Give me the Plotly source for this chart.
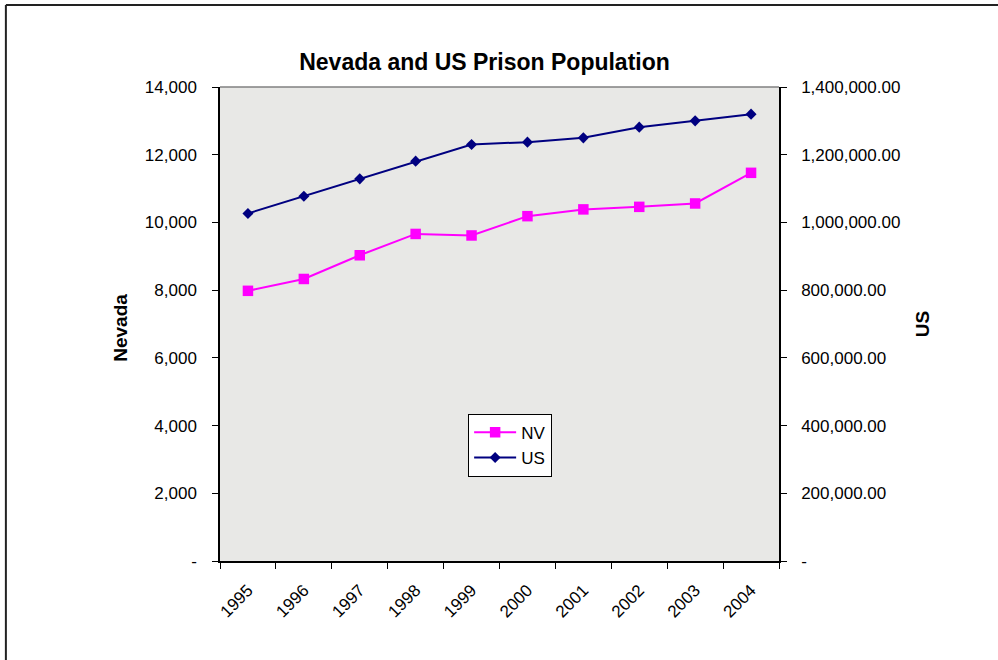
import plotly.graph_objects as go

years = ["1995", "1996", "1997", "1998", "1999", "2000", "2001", "2002", "2003", "2004"]
nv_values = [7980, 8330, 9030, 9660, 9615, 10185, 10385, 10460, 10560, 11465]
us_values = [1026600, 1077600, 1128700, 1181000, 1230300, 1237100, 1249800, 1281400, 1300000, 1319800]

left_tickvals = [0, 2000, 4000, 6000, 8000, 10000, 12000, 14000]
left_ticktext = ["-", "2,000", "4,000", "6,000", "8,000", "10,000", "12,000", "14,000"]
right_tickvals = [0, 200000, 400000, 600000, 800000, 1000000, 1200000, 1400000]
right_ticktext = ["-", "200,000.00", "400,000.00", "600,000.00", "800,000.00",
                  "1,000,000.00", "1,200,000.00", "1,400,000.00"]

FONT = "Liberation Sans, Arial, sans-serif"
W, H = 998, 660
L, R, T, B = 220, 778.7, 87, 561.3
pw, ph = R - L, B - T

fig = go.Figure()
fig.add_trace(go.Scatter(
    x=years, y=nv_values, name="NV", mode="lines+markers", legendgroup="a",
    line=dict(color="#FF00FF", width=2),
    marker=dict(symbol="square", size=10.5, color="#FF00FF"),
))
fig.add_trace(go.Scatter(
    x=years, y=us_values, name="US", mode="lines+markers", yaxis="y2", legendgroup="b",
    line=dict(color="#000080", width=2),
    marker=dict(symbol="diamond", size=8.5, color="#000080"),
))

def px_x(p):
    return (p - L) / pw

def px_y(p):
    return (B - p) / ph

fig.update_layout(
    width=W, height=H,
    margin=dict(l=L, r=W - R, t=T, b=H - B, pad=0),
    paper_bgcolor="white",
    plot_bgcolor="#e8e8e6",
    font=dict(family=FONT, size=17, color="black"),
    title=dict(text="<b>Nevada and US Prison Population</b>", x=484.5 / W, xref="container",
               xanchor="center", y=1 - 62 / H, yref="container", yanchor="middle",
               font=dict(size=23, family=FONT)),
    xaxis=dict(type="category", range=[-0.5, 9.5], showline=True, linecolor="black", linewidth=1.5,
               ticks="outside", ticklen=6, tickcolor="black", tickson="boundaries",
               tickangle=-45, showgrid=False, zeroline=False, tickfont=dict(size=17),
               ticklabelstandoff=11),
    yaxis=dict(range=[0, 14000], tickvals=left_tickvals, ticktext=left_ticktext,
               showline=True, linecolor="black", linewidth=1.5, ticks="outside", ticklen=6,
               tickcolor="black", showgrid=False, zeroline=False, ticklabelstandoff=12,
               tickfont=dict(size=17)),
    yaxis2=dict(range=[0, 1400000], tickvals=right_tickvals, ticktext=right_ticktext,
                overlaying="y", side="right", showline=True, linecolor="black", linewidth=1.5,
                ticks="outside", ticklen=6, tickcolor="black", showgrid=False, zeroline=False,
                ticklabelstandoff=11, tickfont=dict(size=17)),
    legend=dict(x=px_x(468), y=px_y(414), xanchor="left", yanchor="top",
                bgcolor="white", bordercolor="black", borderwidth=1,
                font=dict(size=17, family=FONT), tracegroupgap=0, itemwidth=42),
    showlegend=True,
    annotations=[
        dict(text="<b>Nevada</b>", x=px_x(121), y=px_y(328), xref="paper", yref="paper",
             textangle=-90, showarrow=False, font=dict(size=19, family=FONT),
             xanchor="center", yanchor="middle"),
        dict(text="<b>US</b>", x=px_x(922), y=px_y(324), xref="paper", yref="paper",
             textangle=-90, showarrow=False, font=dict(size=19, family=FONT),
             xanchor="center", yanchor="middle"),
    ],
    shapes=[
        dict(type="line", xref="paper", yref="paper", x0=0, x1=1, y0=1, y1=1,
             line=dict(color="#808080", width=1.5)),
        dict(type="line", xref="paper", yref="paper", x0=px_x(6), x1=px_x(1010), y0=px_y(5), y1=px_y(5),
             line=dict(color="#222222", width=2)),
        dict(type="line", xref="paper", yref="paper", x0=px_x(6), x1=px_x(6), y0=px_y(5), y1=px_y(680),
             line=dict(color="#222222", width=2)),
    ],
)

fig.write_html("out.html", config={"displayModeBar": False},
               post_script="document.body.style.margin='0';document.body.style.overflow='hidden';")
